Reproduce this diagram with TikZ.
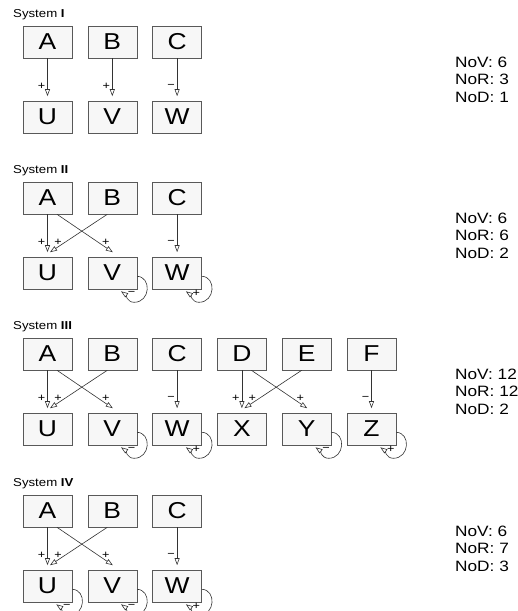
\documentclass[tikz,border=0pt]{standalone}
\usepackage{fontspec}
\setmainfont{Liberation Sans}[FakeStretch=1.15]
\usetikzlibrary{arrows.meta}
\tikzset{
  box/.style={draw=black!65, fill=black!3, line width=0.6pt, minimum width=49pt, minimum height=32pt, inner sep=0pt, font=\fontsize{23}{23}\selectfont},
  edge/.style={draw=black!80, line width=0.6pt, -{Triangle[open, length=7pt, width=5pt, fill=white]}},
  sign/.style={font=\fontsize{11}{11}\selectfont, inner sep=0pt},
  syslabel/.style={anchor=west, inner sep=0pt, font=\fontsize{11.5}{11.5}\selectfont},
  stat/.style={anchor=west, inner sep=0pt, font=\fontsize{15}{15}\selectfont},
}
\newcommand\selfloop[2]{%
  \draw[edge] ([yshift=13pt]#1.south east)
    .. controls ([shift={(14.5,12.5)}]#1.south east) and ([shift={(13.5,-13)}]#1.south east)
    .. ([shift={(-3,-13)}]#1.south east)
    .. controls ([shift={(-10,-13)}]#1.south east) and ([shift={(-12,-4.9)}]#1.south east)
    .. ([shift={(-16,-2)}]#1.south east);
  \node[sign] at ([shift={(-5.5,-4)}]#1.south east) {#2};}
\begin{document}
\begin{tikzpicture}[x=1pt,y=1pt]
\useasboundingbox (0,0) rectangle (518,611);
\clip (0,0) rectangle (518,611);

% ---------- System I ----------
\node[syslabel] (L1) at (13,596) {System \textbf{I}};
\node[box] (A1) at (47.5,569) {A};
\node[box] (B1) at (112.3,569) {B};
\node[box] (C1) at (177.1,569) {C};
\node[box] (U1) at (47.5,494) {U};
\node[box] (V1) at (112.3,494) {V};
\node[box] (W1) at (177.1,494) {W};
\draw[edge] (A1.south) -- ([yshift=4.5pt]U1.north) node[sign,xshift=-6pt,yshift=10pt]{+};
\draw[edge] (B1.south) -- ([yshift=4.5pt]V1.north) node[sign,xshift=-6pt,yshift=10pt]{+};
\draw[edge] (C1.south) -- ([yshift=4.5pt]W1.north) node[sign,xshift=-6pt,yshift=10pt]{−};
\node[stat] (N1a) at (455,549) {NoV: 6};
\node[stat] (N1b) at (455,531.5) {NoR: 3};
\node[stat] (N1c) at (455,514) {NoD: 1};

% ---------- System II ----------
\node[syslabel] (L2) at (13,440) {System \textbf{II}};
\node[box] (A2) at (47.5,413) {A};
\node[box] (B2) at (112.3,413) {B};
\node[box] (C2) at (177.1,413) {C};
\node[box] (U2) at (47.5,338) {U};
\node[box] (V2) at (112.3,338) {V};
\node[box] (W2) at (177.1,338) {W};
\draw[edge] (A2.south) -- ([yshift=4.5pt]U2.north) node[sign,xshift=-6pt,yshift=10pt]{+};
\draw[edge] ([xshift=-5pt]B2.south) -- ([xshift=2.5pt,yshift=4.5pt]U2.north) node[sign,xshift=8pt,yshift=10pt]{+};
\draw[edge] ([xshift=9.5pt]A2.south) -- ([xshift=0.5pt,yshift=4.5pt]V2.north) node[sign,xshift=-7pt,yshift=10pt]{+};
\draw[edge] (C2.south) -- ([yshift=4.5pt]W2.north) node[sign,xshift=-6pt,yshift=10pt]{−};
\selfloop{V2}{−}
\selfloop{W2}{+}
\node[stat] (N2a) at (455,393) {NoV: 6};
\node[stat] (N2b) at (455,375.5) {NoR: 6};
\node[stat] (N2c) at (455,358) {NoD: 2};

% ---------- System III ----------
\node[syslabel] (L3) at (13,284) {System \textbf{III}};
\node[box] (A3) at (47.5,257) {A};
\node[box] (B3) at (112.3,257) {B};
\node[box] (C3) at (177.1,257) {C};
\node[box] (D3) at (241.9,257) {D};
\node[box] (E3) at (306.7,257) {E};
\node[box] (F3) at (371.5,257) {F};
\node[box] (U3) at (47.5,182) {U};
\node[box] (V3) at (112.3,182) {V};
\node[box] (W3) at (177.1,182) {W};
\node[box] (X3) at (241.9,182) {X};
\node[box] (Y3) at (306.7,182) {Y};
\node[box] (Z3) at (371.5,182) {Z};
\draw[edge] (A3.south) -- ([yshift=4.5pt]U3.north) node[sign,xshift=-6pt,yshift=10pt]{+};
\draw[edge] ([xshift=-5pt]B3.south) -- ([xshift=2.5pt,yshift=4.5pt]U3.north) node[sign,xshift=8pt,yshift=10pt]{+};
\draw[edge] ([xshift=9.5pt]A3.south) -- ([xshift=0.5pt,yshift=4.5pt]V3.north) node[sign,xshift=-7pt,yshift=10pt]{+};
\draw[edge] (C3.south) -- ([yshift=4.5pt]W3.north) node[sign,xshift=-6pt,yshift=10pt]{−};
\draw[edge] (D3.south) -- ([yshift=4.5pt]X3.north) node[sign,xshift=-6pt,yshift=10pt]{+};
\draw[edge] ([xshift=-5pt]E3.south) -- ([xshift=2.5pt,yshift=4.5pt]X3.north) node[sign,xshift=8pt,yshift=10pt]{+};
\draw[edge] ([xshift=9.5pt]D3.south) -- ([xshift=0.5pt,yshift=4.5pt]Y3.north) node[sign,xshift=-7pt,yshift=10pt]{+};
\draw[edge] (F3.south) -- ([yshift=4.5pt]Z3.north) node[sign,xshift=-6pt,yshift=10pt]{−};
\selfloop{V3}{−}
\selfloop{W3}{+}
\selfloop{Y3}{−}
\selfloop{Z3}{+}
\node[stat] (N3a) at (455,237) {NoV: 12};
\node[stat] (N3b) at (455,219.5) {NoR: 12};
\node[stat] (N3c) at (455,202) {NoD: 2};

% ---------- System IV ----------
\node[syslabel] (L4) at (13,127) {System \textbf{IV}};
\node[box] (A4) at (47.5,100) {A};
\node[box] (B4) at (112.3,100) {B};
\node[box] (C4) at (177.1,100) {C};
\node[box] (U4) at (47.5,25) {U};
\node[box] (V4) at (112.3,25) {V};
\node[box] (W4) at (177.1,25) {W};
\draw[edge] (A4.south) -- ([yshift=4.5pt]U4.north) node[sign,xshift=-6pt,yshift=10pt]{+};
\draw[edge] ([xshift=-5pt]B4.south) -- ([xshift=2.5pt,yshift=4.5pt]U4.north) node[sign,xshift=8pt,yshift=10pt]{+};
\draw[edge] ([xshift=9.5pt]A4.south) -- ([xshift=0.5pt,yshift=4.5pt]V4.north) node[sign,xshift=-7pt,yshift=10pt]{+};
\draw[edge] (C4.south) -- ([yshift=4.5pt]W4.north) node[sign,xshift=-6pt,yshift=10pt]{−};
\selfloop{U4}{−}
\selfloop{V4}{−}
\selfloop{W4}{+}
\node[stat] (N4a) at (455,80) {NoV: 6};
\node[stat] (N4b) at (455,62.5) {NoR: 7};
\node[stat] (N4c) at (455,45) {NoD: 3};
\end{tikzpicture}
\end{document}
